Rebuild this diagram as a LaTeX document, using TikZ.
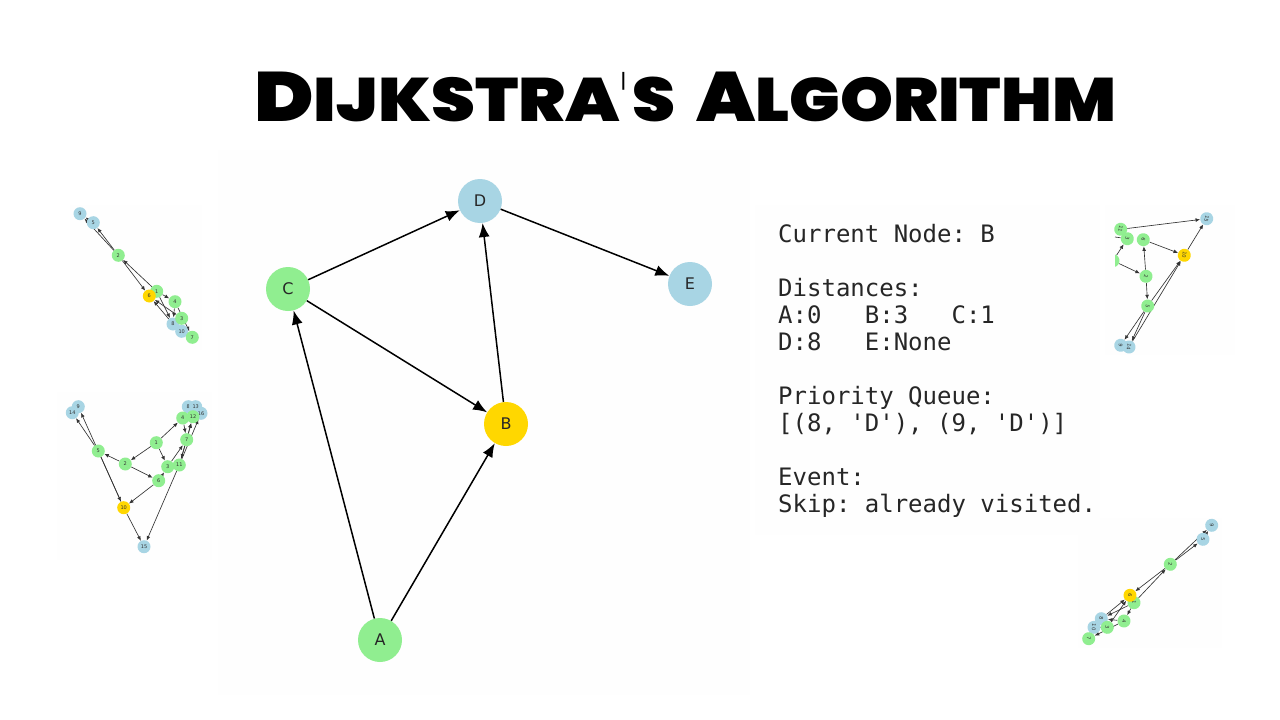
\documentclass[tikz,border=0pt]{standalone}
\usepackage{fontspec}
\usepackage{graphicx}
\setmainfont{DejaVu Sans}
\newfontfamily\titlefont{Poppins}[UprightFont=* Black]
\newfontfamily\monofont{DejaVu Sans Mono}
\usetikzlibrary{arrows.meta}
\pgfdeclarelayer{edgelayer}
\pgfsetlayers{edgelayer,main}
\definecolor{ngreen}{HTML}{90EE90}
\definecolor{nblue}{HTML}{A8D5E4}
\definecolor{ngold}{HTML}{FFD700}
\definecolor{panelc}{HTML}{FEFEFE}
\newcommand{\ttlbig}[1]{\fontsize{49}{49}\selectfont #1}
\newcommand{\ttlsmall}[1]{\fontsize{43}{43}\selectfont #1}
\tikzset{
 panel/.style={fill=panelc,draw=none},
 titlepart/.style={anchor=base west,inner sep=0pt,text=black},
 bignode/.style={circle,minimum size=44pt,inner sep=0pt,font=\fontsize{16}{16}\selectfont,text=black!85},
 bigedge/.style={draw=black,line width=1.5pt,-{Latex[length=14pt,width=11pt]}},
 tn/.style={circle,minimum size=13pt,inner sep=0pt,font=\fontsize{5}{5}\selectfont,text=black!80},
 te/.style={draw=black!80,line width=0.65pt,-{Latex[length=4.5pt,width=3.8pt]}},
 fg/.style={fill=ngreen}, fb/.style={fill=nblue}, fy/.style={fill=ngold},
 monotext/.style={align=left,inner sep=0pt,font=\frenchspacing\monofont\fontsize{24}{27}\selectfont,text=black!85}
}
\begin{document}
\begin{tikzpicture}[x=1pt,y=-1pt]
\useasboundingbox (0,0) rectangle (1280,720);
\begin{pgfonlayer}{edgelayer}
\fill[white] (0,0) rectangle (1280,720);
% faint panels
\path[panel] (218,150) rectangle (750,695);
\path[panel] (755,205) rectangle (1100,535);
\path[panel] (70,205) rectangle (202,350);
\path[panel] (57,392) rectangle (212,560);
\path[panel] (1105,205) rectangle (1235,355);
\path[panel] (1078,518) rectangle (1222,648);
\end{pgfonlayer}
% title
\node[titlepart] (title1) at (254,121.5) {\resizebox{366pt}{49.5pt}{\titlefont\ttlbig{D}\ttlsmall{IJKSTRA}}};
\node[titlepart] (title2) at (620,120) {\scalebox{2.4}[6.6]{\textquotesingle}};
\node[titlepart] (title3) at (632,121.5) {\resizebox{43pt}{44.5pt}{\titlefont\ttlsmall{S}}};
\node[titlepart] (title4) at (696,121.5) {\resizebox{420pt}{49.5pt}{\titlefont\ttlbig{A}\ttlsmall{LGORITHM}}};
% main graph
\node[bignode,fg] (A) at (380,640) {A};
\node[bignode,fy] (B) at (506,424) {B};
\node[bignode,fg] (C) at (288,289) {C};
\node[bignode,fb] (D) at (480,201) {D};
\node[bignode,fb] (E) at (690,284) {E};
\draw[bigedge] (A) -- (C);
\draw[bigedge] (A) -- (B);
\draw[bigedge] (C) -- (D);
\draw[bigedge] (C) -- (B);
\draw[bigedge] (B) -- (D);
\draw[bigedge] (D) -- (E);
% state text
\node[monotext,anchor=north west] (state) at (778,224) {Current Node: B\\[27pt]Distances:\\A:0\ \ \ B:3\ \ \ C:1\\D:8\ \ \ E:None\\[27pt]Priority Queue:\\{[}(8, 'D'), (9, 'D')]\\[27pt]Event:\\Skip: already visited.};
% thumbnail 1
\node[tn,fb] (a9) at (80,213.7) {9};
\node[tn,fb] (a5) at (93.3,222.7) {5};
\node[tn,fg] (a2) at (118.3,255.3) {2};
\node[tn,fg] (a1) at (156.7,291.3) {1};
\node[tn,fy] (a6) at (149.3,296) {6};
\node[tn,fg] (a4) at (175,301.7) {4};
\node[tn,fb] (a8) at (173,324) {8};
\node[tn,fb] (a10) at (181.7,331.3) {10};
\node[tn,fg] (a3) at (181.7,318.3) {3};
\node[tn,fg] (a7) at (192.3,337.3) {7};
\begin{pgfonlayer}{edgelayer}
\draw[te] (a5) -- (a9);
\draw[te] (a2) -- (a5);
\draw[te] (a2) -- (a9);
\draw[te] (a1) -- (a2);
\draw[te] (a2) -- (a6);
\draw[te] (a1) -- (a4);
\draw[te] (a1) -- (a8);
\draw[te] (a8) -- (a6);
\draw[te] (a3) -- (a6);
\draw[te] (a4) -- (a8);
\draw[te] (a4) -- (a7);
\draw[te] (a3) -- (a10);
\end{pgfonlayer}
% thumbnail 2
\node[tn,fb] (c9) at (78.3,406.7) {9};
\node[tn,fb] (c14) at (72.3,412.7) {14};
\node[tn,fb] (c8) at (188.3,406.7) {8};
\node[tn,fb] (c13) at (195.7,406.7) {13};
\node[tn,fb] (c16) at (201,413.3) {16};
\node[tn,fg] (c4) at (182.7,418) {4};
\node[tn,fg] (c12) at (193,416.7) {12};
\node[tn,fg] (c7) at (186.7,439.7) {7};
\node[tn,fg] (c1) at (156.3,442.7) {1};
\node[tn,fg] (c5) at (98.3,451) {5};
\node[tn,fg] (c2) at (125.3,464) {2};
\node[tn,fg] (c3) at (167.7,466.7) {3};
\node[tn,fg] (c11) at (179.3,465) {11};
\node[tn,fg] (c6) at (158.7,480.7) {6};
\node[tn,fy] (c10) at (123.7,507.7) {10};
\node[tn,fb] (c15) at (144,546.7) {15};
\begin{pgfonlayer}{edgelayer}
\draw[te] (c1) -- (c4);
\draw[te] (c1) -- (c2);
\draw[te] (c1) -- (c3);
\draw[te] (c2) -- (c5);
\draw[te] (c2) -- (c6);
\draw[te] (c5) -- (c14);
\draw[te] (c5) -- (c10);
\draw[te] (c10) -- (c9);
\draw[te] (c10) -- (c15);
\draw[te] (c6) -- (c10);
\draw[te] (c6) -- (c3);
\draw[te] (c3) -- (c7);
\draw[te] (c7) -- (c11);
\draw[te] (c7) -- (c12);
\draw[te] (c4) -- (c7);
\draw[te] (c11) -- (c12);
\draw[te] (c11) -- (c16);
\draw[te] (c11) -- (c15);
\end{pgfonlayer}
% thumbnail 3
\begin{scope}[every node/.append style={rotate=-100}]
\begin{scope}
\clip (1115,250) rectangle (1125,272);
\node[tn,fg] (d1) at (1113,260.7) {};
\end{scope}
\node[tn,fb] (d9) at (1120.7,345.3) {9};
\node[tn,fb] (d14) at (1129,347) {14};
\node[tn,fg] (d11) at (1120.7,229.3) {11};
\node[tn,fg] (d3) at (1127.3,238.7) {3};
\node[tn,fg] (d6) at (1143.3,239.7) {6};
\node[tn,fg] (d2) at (1146,276.3) {2};
\node[tn,fg] (d5) at (1147.7,306) {5};
\node[tn,fy] (d10) at (1184.3,255.3) {10};
\node[tn,fb] (d15) at (1206.7,218.7) {15};
\coordinate (dfree) at (1115,237);
\begin{pgfonlayer}{edgelayer}
\draw[te] (d11) -- (d15);
\draw[te] (d10) -- (d15);
\draw[te] (d6) -- (d10);
\draw[te,-] (dfree) -- (d3);
\draw[te] (d2) -- (d6);
\draw[te] (d2) -- (d5);
\draw[te] (d1) -- (d2);
\draw[te] (d1) -- (d3);
\draw[te] (d5) -- (d9);
\draw[te] (d5) -- (d14);
\draw[te] (d5) -- (d10);
\draw[te] (d14) -- (d10);
\end{pgfonlayer}
\end{scope}
% thumbnail 4
\begin{scope}[every node/.append style={rotate=-95}]
\node[tn,fb] (e9) at (1211.7,525.3) {9};
\node[tn,fb] (e5) at (1203,539.3) {5};
\node[tn,fg] (e2) at (1170.3,564.3) {2};
\node[tn,fg] (e1) at (1134,602.7) {1};
\node[tn,fy] (e6) at (1130,595.3) {6};
\node[tn,fg] (e4) at (1124,621) {4};
\node[tn,fb] (e8) at (1101.3,618.7) {8};
\node[tn,fb] (e10) at (1094,627.3) {10};
\node[tn,fg] (e3) at (1107.3,627.3) {3};
\node[tn,fg] (e7) at (1088.7,638.7) {7};
\begin{pgfonlayer}{edgelayer}
\draw[te] (e5) -- (e9);
\draw[te] (e2) -- (e5);
\draw[te] (e2) -- (e9);
\draw[te] (e1) -- (e2);
\draw[te] (e2) -- (e6);
\draw[te] (e1) -- (e4);
\draw[te] (e1) -- (e8);
\draw[te] (e8) -- (e6);
\draw[te] (e3) -- (e6);
\draw[te] (e4) -- (e8);
\draw[te] (e4) -- (e7);
\draw[te] (e3) -- (e10);
\end{pgfonlayer}
\end{scope}
\end{tikzpicture}
\end{document}
